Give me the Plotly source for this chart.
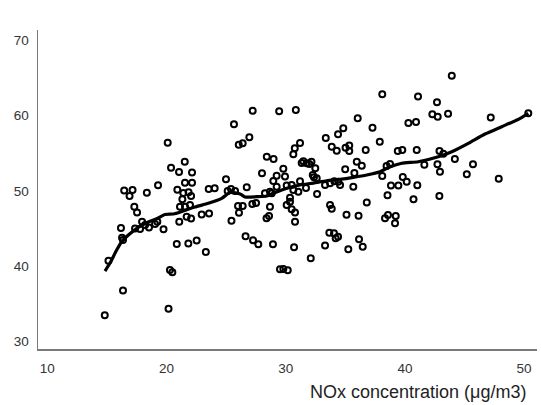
import plotly.graph_objects as go

# Scatter observations: NOx concentration (x) vs outcome (y)
nox = [
    14.82, 16.35, 15.13, 16.18, 16.27, 16.35, 17.30, 17.53, 17.36, 17.78,
    17.95, 18.20, 18.53, 19.04, 19.23, 19.75, 20.29, 20.49, 20.17, 20.86,
    21.07, 21.13, 21.55, 21.83, 22.06, 21.69, 21.97, 22.53, 22.95, 23.57,
    23.30, 25.45, 26.08, 26.00, 26.39, 26.63, 27.26, 27.70, 27.20, 27.51,
    28.39, 28.60, 28.93, 30.70, 32.10, 29.52, 29.80, 30.17, 33.30, 33.66,
    34.05, 34.39, 34.19, 35.25, 36.15, 36.46, 35.10, 36.11, 38.33, 38.58,
    39.23, 39.17, 36.80, 30.08, 30.36, 30.78, 30.78, 30.50, 33.72, 33.86,
    40.72, 38.54, 42.89, 28.68, 43.93, 38.10, 41.10, 42.69, 42.30, 42.75,
    43.62, 40.29, 40.93, 47.20, 50.35, 39.40, 39.78, 40.99, 42.90, 43.22,
    41.63, 42.73, 42.94, 44.19, 45.71, 45.19, 47.87, 39.82, 40.15, 38.83,
    39.45, 41.04, 38.46, 38.75, 38.10, 27.23, 25.66, 26.06, 26.39, 26.95,
    28.41, 28.98, 28.01, 20.10, 20.38, 21.05, 21.53, 22.14, 21.55, 22.14,
    20.91, 21.41, 21.85, 22.06, 21.33, 19.29, 18.35, 16.45, 17.15, 16.90,
    23.54, 24.04, 24.99, 26.73, 25.13, 25.75, 25.41, 28.26, 28.83, 29.45,
    30.85, 36.04, 34.83, 34.39, 37.28, 33.36, 33.86, 34.28, 35.02, 35.33,
    35.33, 36.71, 37.89, 31.20, 30.76, 30.64, 31.48, 31.34, 31.76, 32.16,
    31.98, 32.48, 35.96, 36.38, 34.99, 35.76, 29.80, 29.94, 29.24, 28.96,
    29.24, 30.08, 28.68, 30.50, 31.20, 31.70, 30.64, 30.36, 31.06, 32.63,
    33.30, 33.72, 34.08, 34.41, 34.56, 35.67, 32.27, 32.37, 32.60,
]
outcome = [
    33.49, 36.78, 40.73, 45.07, 43.78, 43.47, 47.89, 47.12, 45.00, 44.93,
    45.90, 45.46, 45.13, 45.60, 45.90, 44.89, 39.50, 39.19, 34.36, 42.94,
    45.90, 47.89, 47.89, 43.01, 46.33, 46.56, 48.12, 43.41, 46.86, 46.99,
    41.88, 46.03, 47.10, 47.98, 47.98, 43.98, 43.43, 42.90, 48.25, 48.38,
    46.35, 46.66, 42.90, 42.51, 41.05, 39.59, 39.63, 39.46, 42.75, 44.44,
    44.36, 43.91, 43.70, 42.24, 43.57, 42.59, 46.83, 46.70, 46.35, 46.79,
    46.66, 45.69, 48.45, 48.12, 48.55, 47.12, 45.90, 47.55, 48.12, 47.61,
    48.87, 49.40, 49.31, 47.89, 65.25, 62.81, 62.51, 61.74, 60.15, 59.83,
    60.23, 58.99, 59.12, 59.72, 60.29, 55.28, 55.41, 55.41, 55.28, 54.92,
    53.45, 53.51, 52.53, 54.22, 53.51, 52.20, 51.59, 51.83, 51.21, 50.70,
    50.70, 50.74, 53.29, 53.55, 51.96, 60.62, 58.82, 56.11, 56.30, 57.10,
    54.52, 54.22, 52.32, 56.38, 53.06, 52.49, 53.86, 52.43, 51.07, 51.07,
    50.15, 49.71, 49.80, 49.31, 48.87, 50.74, 49.75, 50.04, 50.11, 49.31,
    50.24, 50.34, 51.53, 50.46, 49.97, 49.97, 50.24, 49.67, 49.67, 60.54,
    60.72, 59.63, 58.29, 57.49, 58.37, 57.00, 55.85, 55.32, 55.70, 56.02,
    55.28, 55.41, 56.50, 56.34, 55.64, 54.85, 53.93, 53.69, 53.65, 53.86,
    53.55, 52.98, 53.86, 53.32, 52.85, 52.36, 52.93, 51.90, 51.99, 51.30,
    50.54, 50.70, 49.88, 50.77, 51.27, 50.37, 50.11, 49.07, 49.88, 49.58,
    50.77, 51.00, 51.27, 51.21, 50.77, 50.54, 52.10, 51.79, 51.66,
]

# Smoothed (LOESS-style) curve
smooth_x = [
    14.84, 15.26, 15.82, 16.24, 16.80, 17.63, 18.47, 19.31, 19.87, 20.57,
    21.28, 22.39, 23.51, 24.63, 25.33, 26.17, 26.59, 27.57, 28.41, 28.96,
    30.08, 31.20, 32.32, 33.44, 34.56, 35.67, 36.80, 37.91, 38.61, 39.73,
    41.12, 42.80, 43.93, 45.32, 46.72, 48.12, 49.51, 50.35,
]
smooth_y = [
    39.36, 40.42, 42.15, 43.25, 44.14, 45.16, 45.86, 46.39, 46.86, 46.92,
    47.25, 47.85, 48.34, 49.00, 49.77, 49.58, 49.18, 49.22, 49.31, 49.67,
    50.33, 50.77, 51.03, 51.34, 51.53, 51.79, 52.10, 52.53, 53.09, 53.65,
    53.86, 54.52, 55.19, 56.30, 57.53, 58.50, 59.48, 60.28,
]

x_tickvals = [10, 20, 30, 40, 50]
y_tickvals = [30, 40, 50, 60, 70]
x_title = "NOx concentration (μg/m3)"

fig = go.Figure()
fig.add_trace(go.Scatter(
    x=nox, y=outcome, mode="markers",
    marker=dict(symbol="circle-open", size=6, color="black",
                line=dict(width=2, color="black")),
    showlegend=False, hoverinfo="skip",
))
fig.add_trace(go.Scatter(
    x=smooth_x, y=smooth_y, mode="lines",
    line=dict(color="black", width=3.2, shape="spline", smoothing=0.6),
    showlegend=False, hoverinfo="skip",
))

axis_font = dict(family="Liberation Sans, Arial, sans-serif", size=13.5, color="#333333")
fig.update_layout(
    width=541, height=405,
    margin=dict(l=38, r=4, t=30, b=56),
    paper_bgcolor="white", plot_bgcolor="white",
    xaxis=dict(range=[9.22, 51.08], tickvals=x_tickvals, showgrid=False, zeroline=False,
               showline=True, linecolor="#7a7a7a", linewidth=1.5, ticks="",
               tickfont=axis_font, ticklabelstandoff=6),
    yaxis=dict(range=[29.02, 71.33], tickvals=y_tickvals, showgrid=False, zeroline=False,
               showline=True, linecolor="#7a7a7a", linewidth=1.5, ticks="",
               tickfont=axis_font, ticklabelstandoff=5),
    annotations=[dict(
        text=x_title, xref="paper", yref="paper", x=0.982, y=-0.135,
        xanchor="right", yanchor="middle", showarrow=False,
        font=dict(family="Liberation Sans, Arial, sans-serif", size=18, color="#222222"),
    )],
)

fig.write_html(
    "out.html",
    config={"displayModeBar": False, "staticPlot": True},
    post_script="document.body.style.margin='0';document.body.style.overflow='hidden';",
)
